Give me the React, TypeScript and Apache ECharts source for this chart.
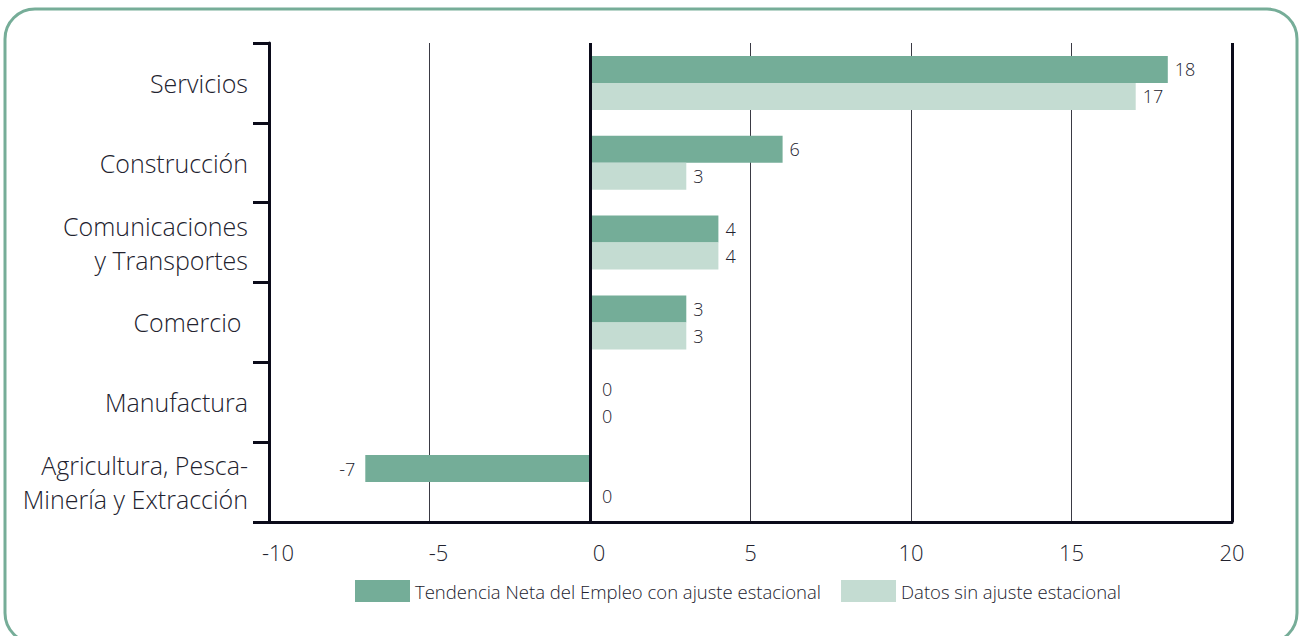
import React, { useEffect, useRef } from "react";
import * as echarts from "echarts";

const categories = [
  "Servicios",
  "Construcción",
  "Comunicaciones\ny Transportes",
  "Comercio ",
  "Manufactura",
  "Agricultura, Pesca-\nMinería y Extracción",
];
const seriesNames = [
  "Tendencia Neta del Empleo con ajuste estacional",
  "Datos sin ajuste estacional",
];
const ajustado = [18, 6, 4, 3, 0, -7];
const sinAjuste = [17, 3, 4, 3, 0, 0];
const xTicks = [-10, -5, 0, 5, 10, 15, 20];

const TEXT = "#22222e";
const AXIS = "#0b0b1a";
const DARK = "#74ad98";
const LIGHT = "#c4dcd2";
const FONT = "'Open Sans', 'Liberation Sans', sans-serif";

export default function App() {
  const ref = useRef<HTMLDivElement>(null);
  useEffect(() => {
    if (!ref.current) return;
    const chart = echarts.init(ref.current, undefined, { renderer: "svg" });
    const labelFor = (v: number) => ({
      show: true,
      position: v < 0 ? "left" : "right",
      distance: v < 0 ? 10 : v === 0 ? 12 : 7,
      color: TEXT,
      fontSize: 18,
      fontFamily: FONT,
      fontWeight: 300,
    });
    chart.setOption({
      animation: false,
      textStyle: { fontFamily: FONT },
      graphic: [
        {
          type: "rect",
          shape: { x: 5, y: 9, width: 1292, height: 634, r: 30 },
          style: { fill: "none", stroke: "#76ad98", lineWidth: 3 },
          silent: true,
        },
      ],
      legend: {
        left: 350,
        top: 575,
        itemWidth: 55,
        itemHeight: 22,
        itemGap: 20,
        icon: "rect",
        textStyle: { color: TEXT, fontSize: 18.5, fontFamily: FONT, fontWeight: 300 },
        data: seriesNames,
      },
      grid: { left: 269, right: 70, top: 43, bottom: 114, containLabel: false },
      xAxis: {
        type: "value",
        min: xTicks[0],
        max: xTicks[xTicks.length - 1],
        interval: 5,
        axisLine: { show: true, onZero: false, lineStyle: { color: AXIS, width: 3 } },
        axisTick: { show: false },
        splitLine: { show: true, lineStyle: { color: "#3a3a44", width: 1 } },
        axisLabel: {
          margin: 19,
          color: TEXT,
          fontSize: 22,
          fontFamily: FONT,
          fontWeight: 300,
          formatter: (v: number) => (v <= 0 ? "{s|" + v + "}" : String(v)),
          rich: {
            s: { fontSize: 22, color: TEXT, fontFamily: FONT, fontWeight: 300, padding: [0, 0, 0, 18] },
          },
        },
      },
      yAxis: {
        type: "category",
        inverse: true,
        data: categories,
        axisLine: { show: true, onZero: false, lineStyle: { color: AXIS, width: 3 } },
        axisTick: { show: true, length: 16, lineStyle: { color: AXIS, width: 3 } },
        axisLabel: {
          margin: 21,
          color: TEXT,
          fontSize: 25,
          lineHeight: 34,
          fontFamily: FONT,
          fontWeight: 300,
          align: "right",
        },
      },
      series: [
        {
          name: seriesNames[0],
          type: "bar",
          barWidth: 27,
          barGap: "0%",
          itemStyle: { color: DARK },
          data: ajustado.map((v) => ({ value: v, label: labelFor(v) })),
          markLine: {
            silent: true,
            symbol: "none",
            label: { show: false },
            lineStyle: { color: AXIS, width: 3, type: "solid" },
            data: [{ xAxis: 0 }, { xAxis: 20 }],
          },
        },
        {
          name: seriesNames[1],
          type: "bar",
          barWidth: 27,
          barGap: "0%",
          itemStyle: { color: LIGHT },
          data: sinAjuste.map((v) => ({ value: v, label: labelFor(v) })),
        },
      ],
    });
    return () => chart.dispose();
  }, []);
  return (
    <div
      ref={ref}
      style={{ position: "absolute", left: 0, top: 0, width: 1302, height: 636 }}
    />
  );
}
